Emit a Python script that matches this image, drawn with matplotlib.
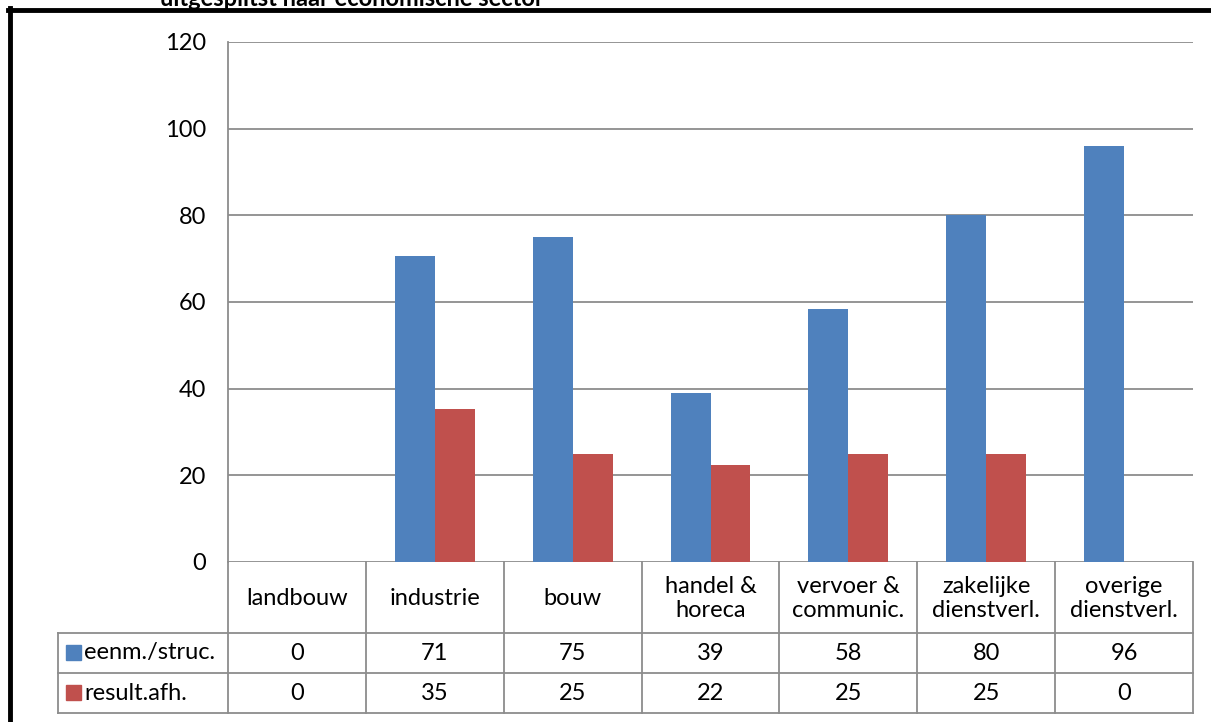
import numpy as np
import matplotlib
matplotlib.use("Agg")
import matplotlib.pyplot as plt
from matplotlib.lines import Line2D
from matplotlib.patches import Rectangle

# Datos del gráfico
categorias = ["landbouw", "industrie", "bouw", "handel &\nhoreca",
              "vervoer &\ncommunic.", "zakelijke\ndienstverl.", "overige\ndienstverl."]
eenm_struc = [0, 70.7, 75, 39, 58.3, 80, 96]
result_afh = [0, 35.2, 25, 22.3, 25, 25, 0]
series_namen = ["eenm./struc.", "result.afh."]
yticks = [0, 20, 40, 60, 80, 100, 120]
titel = "uitgesplitst naar economische sector"

blauw = "#4F81BD"
rood = "#C0504D"
grijs = "#8C8C8C"
fs = 17

plt.rcParams["font.family"] = ["Lato", "DejaVu Sans"]

W, H = 1211, 722
fig = plt.figure(figsize=(W / 100, H / 100), dpi=100)

def fx(px):
    return px / W

def fy(py):
    return 1 - py / H

left, right, top, bottom = 228, 1193, 42, 562
ax = fig.add_axes([fx(left), fy(bottom), fx(right - left), (bottom - top) / H])

n = len(categorias)
x = np.arange(n)
bw = 0.29
ax.bar(x - bw / 2, eenm_struc, bw, color=blauw, zorder=3)
ax.bar(x + bw / 2, result_afh, bw, color=rood, zorder=3)

ax.set_xlim(-0.5, n - 0.5)
ax.set_ylim(0, 120)
ax.set_yticks(yticks)
ax.set_yticklabels([str(t) for t in yticks], fontsize=fs)
ax.tick_params(axis="y", length=0, pad=16)
ax.set_xticks([])
for t in yticks:
    ax.axhline(t, color=grijs, linewidth=1.3, zorder=1)
for s in ["top", "right", "bottom"]:
    ax.spines[s].set_visible(False)
ax.spines["left"].set_color(grijs)
ax.spines["left"].set_linewidth(1.3)

# Tabla de datos debajo del gráfico
row1, row2, row3 = 633, 673, 713
leg_left = 58
cw = (right - left) / n

def hline(y, x0, x1):
    fig.add_artist(Line2D([fx(x0), fx(x1)], [fy(y), fy(y)], color=grijs, linewidth=1.3))

def vline(xp, y0, y1):
    fig.add_artist(Line2D([fx(xp), fx(xp)], [fy(y0), fy(y1)], color=grijs, linewidth=1.3))

hline(row1, leg_left, right)
hline(row2, leg_left, right)
hline(row3, leg_left, right)
vline(leg_left, row1, row3)
for k in range(n + 1):
    vline(left + k * cw, bottom, row3)

for k, cat in enumerate(categorias):
    cx = left + (k + 0.5) * cw
    fig.text(fx(cx), fy((bottom + row1) / 2 + 1), cat, ha="center", va="center",
             fontsize=fs, linespacing=1.2)
    fig.text(fx(cx), fy((row1 + row2) / 2), str(int(round(eenm_struc[k]))),
             ha="center", va="center", fontsize=fs)
    fig.text(fx(cx), fy((row2 + row3) / 2), str(int(round(result_afh[k]))),
             ha="center", va="center", fontsize=fs)

for naam, kleur, (y0, y1) in zip(series_namen, [blauw, rood], [(row1, row2), (row2, row3)]):
    ym = (y0 + y1) / 2
    fig.add_artist(Rectangle((fx(66), fy(ym + 7)), fx(15), 15 / H, color=kleur))
    fig.text(fx(84), fy(ym), naam, ha="left", va="center", fontsize=fs)

# Marco negro y título recortado
fig.text(fx(160), fy(6), titel, ha="left", va="baseline", fontsize=17, fontweight="bold")
fig.add_artist(Line2D([fx(10), fx(10)], [fy(8), 0], color="black", linewidth=3.5))
fig.add_artist(Line2D([fx(8), 1], [fy(10), fy(10)], color="black", linewidth=3.5))

fig.savefig("out.png", dpi=100)
